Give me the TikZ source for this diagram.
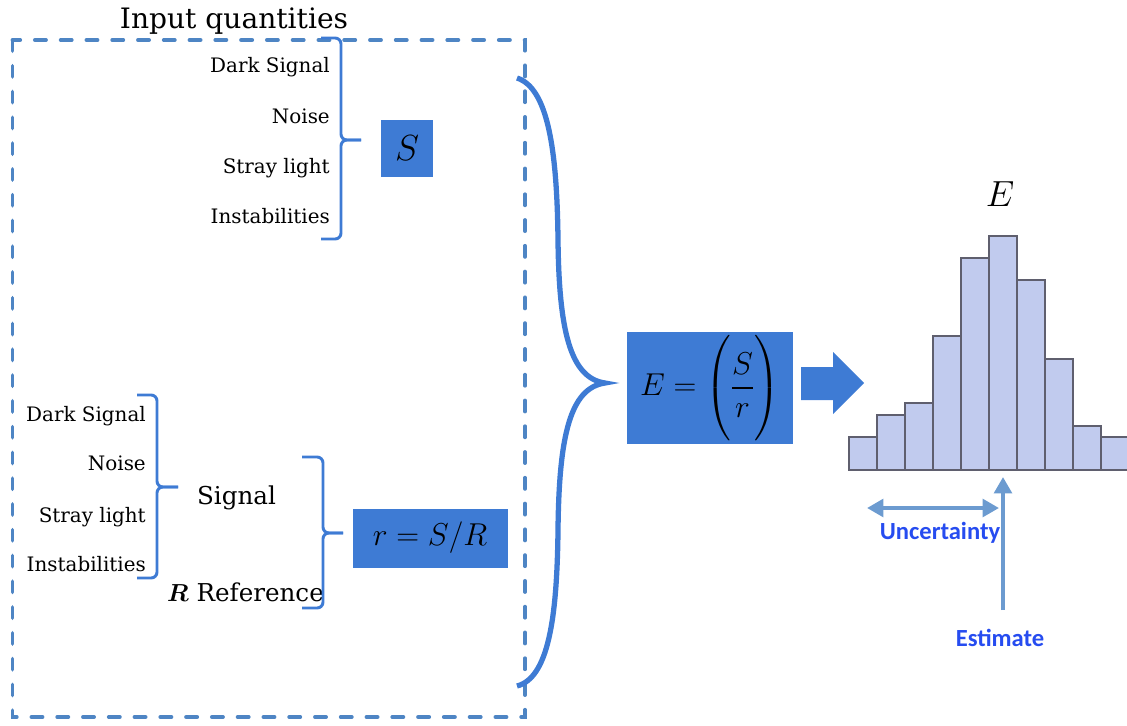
\RequirePackage{fix-cm}
\documentclass[tikz,border=0pt]{standalone}
\usepackage{amsmath}
\usepackage{fontspec}
\setmainfont{DejaVu Serif}
\newfontfamily\calibfont{Carlito}
\usetikzlibrary{arrows.meta}

\definecolor{boxblue}{RGB}{62,123,212}
\definecolor{dashblue}{RGB}{78,133,196}
\definecolor{barfill}{RGB}{193,203,238}
\definecolor{barline}{RGB}{95,95,110}
\definecolor{markblue}{RGB}{108,155,208}
\definecolor{labelblue}{RGB}{38,76,240}

\tikzset{
  item/.style={anchor=base east, inner sep=0pt, font=\fontsize{17}{20}\selectfont},
  heading/.style={anchor=base, inner sep=0pt, font=\fontsize{21}{25}\selectfont},
  valbox/.style={fill=boxblue, inner sep=0pt, font=\fontsize{27}{32}\selectfont},
  curl/.style={draw=boxblue, line width=2.5pt, rounded corners=5pt},
  bar/.style={fill=barfill, draw=barline, line width=1pt},
  marker/.style={draw=markblue, line width=3.4pt},
  fat/.tip={Triangle[width=15pt,length=14pt]},
  note/.style={anchor=base, inner sep=0pt, text=labelblue,
    font=\calibfont\bfseries\fontsize{21}{25}\selectfont},
}

\begin{document}
\begin{tikzpicture}[x=0.03cm, y=-0.03cm]
  \useasboundingbox (0,0) rectangle (1127,725);

  % frame round the inputs
  \draw [dashblue, line width=3.2pt, line cap=round, dash pattern=on 9.5pt off 12.5pt]
    (12.5,40) rectangle (525,717);
  \node (title) [anchor=base, inner sep=0pt, font=\fontsize{24}{29}\selectfont] at (234,28) {Input quantities};

  % contributions to S
  \node (darkA)  [item] at (330,72)  {Dark Signal};
  \node (noiseA) [item] at (330,123) {Noise};
  \node (strayA) [item] at (330,173) {Stray light};
  \node (instA)  [item] at (330,223) {Instabilities};
  \draw [curl] (321,38) -- (341,38) -- (341,140) -- (361,140);
  \draw [curl] (361,140) -- (341,140) -- (341,239) -- (321,239);
  \node (sval) [valbox, minimum width=1.56cm, minimum height=1.71cm,
    font=\fontsize{31}{37}\selectfont] at (407,148) {$S$};

  % contributions to the signal
  \node (darkB)  [item] at (146,421) {Dark Signal};
  \node (noiseB) [item] at (146,470) {Noise};
  \node (strayB) [item] at (146,522) {Stray light};
  \node (instB)  [item] at (146,571) {Instabilities};
  \draw [curl] (137,395) -- (157,395) -- (157,487) -- (178,487);
  \draw [curl] (178,487) -- (157,487) -- (157,578) -- (137,578);
  \node (signal) [heading] at (236.5,504) {Signal};
  \node (refer)  [heading] at (245.5,601) {$\boldsymbol{R}$ Reference};
  \draw [curl] (302,457) -- (323,457) -- (323,533) -- (343,533);
  \draw [curl] (343,533) -- (323,533) -- (323,608) -- (302,608);
  \node (ratio) [valbox, minimum width=4.65cm, minimum height=1.77cm] at (430,538) {$r = S/R$};

  % everything goes into E
  \draw [boxblue, line width=4.5pt] (517,78) .. controls (548,88) and (557,150) .. (558,240)
    .. controls (559,330) and (570,378) .. (605,383)
    .. controls (570,388) and (559,436) .. (558,530)
    .. controls (557,620) and (548,678) .. (517,686);
  \node (ebox) [valbox, minimum width=4.98cm, minimum height=3.36cm] at (710,388)
    {$E = \Biggl(\dfrac{S}{r}\Biggr)$};
  \fill [boxblue] (801,367) -- (833,367) -- (833,352) -- (864,383)
    -- (833,414) -- (833,400) -- (801,400) -- cycle;

  % histogram of E
  \begin{scope}
    \clip (840,220) rectangle (1127,480);
    \foreach \bx/\by in {849/437, 877/415, 905/403, 933/336, 961/258,
                         989/236, 1017/280, 1045/359, 1073/426, 1101/437}
      \draw [bar] (\bx,470) rectangle (\bx+28,\by);
  \end{scope}
  \node (elabel) [anchor=base, inner sep=0pt, font=\fontsize{31}{37}\selectfont] at (1000,206) {$E$};

  \node (spread)   [note] at (940,539)  {Uncertainty};
  \node (estimate) [note] at (1000,646) {Estimate};
  \coordinate (spreadL) at (867,508);
  \coordinate (spreadR) at (999,508);
  \coordinate (estFoot) at (1003,610);
  \coordinate (peak)    at (1003,477);
  \draw [marker, fat-fat] (spreadL) -- (spreadR);
  \draw [marker, -fat] (estFoot) -- (peak);
\end{tikzpicture}
\end{document}
